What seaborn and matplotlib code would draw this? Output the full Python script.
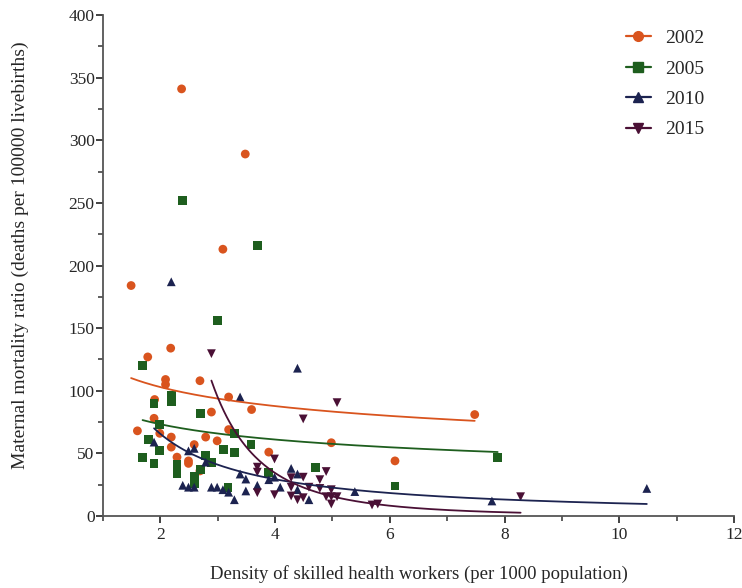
import numpy as np
import pandas as pd
import seaborn as sns
import matplotlib
matplotlib.use("Agg")
import matplotlib.pyplot as plt
from matplotlib.lines import Line2D
from matplotlib.ticker import MultipleLocator

# Density of skilled health workers (per 1000) and maternal mortality ratio, by year
x_2002 = [1.49, 2.37, 3.48, 3.09, 2.18, 1.78, 2.09, 2.09, 2.69, 3.19, 3.59, 1.90, 1.89, 2.89,
          1.60, 1.99, 3.19, 2.19, 2.79, 2.99, 2.19, 2.59, 2.29, 2.49, 2.49, 2.69, 3.89, 4.98,
          6.09, 7.48]
y_2002 = [184, 341, 289, 213, 134, 127, 109, 105, 108, 95, 85, 93, 78, 83,
          68, 66, 69, 63, 63, 60, 55, 57, 47, 44, 42, 36, 51, 58.5,
          44, 81]

x_2005 = [2.39, 3.69, 2.99, 1.69, 2.19, 2.19, 1.89, 2.70, 1.99, 3.29, 1.79, 3.58, 1.99, 3.10,
          3.29, 1.69, 1.89, 2.79, 2.89, 2.29, 2.29, 2.59, 2.59, 2.70, 3.18, 3.89, 4.70, 6.09,
          7.88]
y_2005 = [252, 216, 156, 120, 96, 91, 90, 82, 73, 66, 61, 57, 52, 53,
          50.5, 47, 42, 48, 42.5, 41, 34, 32, 26, 37, 23, 35, 38.6, 24,
          47]

x_2010 = [2.19, 4.39, 3.39, 1.89, 2.49, 2.59, 2.79, 3.39, 3.49, 3.89, 3.99, 4.28, 4.39, 2.39,
          2.49, 2.59, 2.89, 2.99, 3.09, 3.19, 3.29, 3.49, 3.69, 4.09, 4.59, 4.39, 5.39, 7.78,
          10.48]
y_2010 = [187, 118, 95, 59, 52, 54, 43, 33.5, 29.5, 29, 31, 38, 33.5, 24.5,
          23, 23, 23, 23, 21, 19, 13, 20, 24.5, 23, 13, 21, 19.5, 12,
          22]

x_2015 = [2.89, 5.08, 4.49, 3.99, 3.69, 3.69, 3.69, 3.99, 4.28, 4.28, 4.28, 4.39, 4.49, 4.49,
          4.59, 4.78, 4.78, 4.89, 4.98, 4.98, 4.98, 4.89, 5.08, 5.69, 5.79, 8.28]
y_2015 = [129.6, 90.5, 77.5, 45.5, 39, 35, 18.6, 17, 30.6, 23, 16, 13, 31, 14.6,
          23, 29, 22, 35.5, 21, 15.4, 9.6, 15.4, 15.4, 8.8, 9.6, 15.4]

years = ["2002", "2005", "2010", "2015"]
xs = [x_2002, x_2005, x_2010, x_2015]
ys = [y_2002, y_2005, y_2010, y_2015]

# Power-law trend y = a * x**b for each year
trend_a = [120.7, 87.9, 146.5, 4580.0]
trend_b = [-0.23, -0.263, -1.16, -3.53]

colors = {"2002": "#D9541E", "2005": "#1E5E1E", "2010": "#1C2350", "2015": "#4A1035"}
markers = {"2002": "o", "2005": "s", "2010": "^", "2015": "v"}

df = pd.concat(
    [pd.DataFrame({"density": x, "mmr": y, "year": yr}) for yr, x, y in zip(years, xs, ys)],
    ignore_index=True,
)

sns.set_theme(style="ticks")
plt.rcParams["font.family"] = ["Liberation Serif", "DejaVu Serif"]
plt.rcParams["axes.linewidth"] = 1.3
plt.rcParams["xtick.major.width"] = 1.3
plt.rcParams["ytick.major.width"] = 1.3
plt.rcParams["xtick.minor.width"] = 1.1
plt.rcParams["ytick.minor.width"] = 1.1

fig = plt.figure(figsize=(7.42, 5.88), dpi=100)
ax = fig.add_axes([103 / 742, 1 - 516 / 588, (734 - 103) / 742, (516 - 15) / 588])

sns.scatterplot(
    data=df, x="density", y="mmr", hue="year", style="year",
    palette=colors, markers=markers, s=40, linewidth=0, ax=ax, legend=False,
)

# Trend curves over each year's observed density range
for yr, x, a, b in zip(years, xs, trend_a, trend_b):
    xf = np.linspace(min(x), max(x), 200)
    trend = pd.DataFrame({"density": xf, "mmr": a * xf ** b})
    sns.lineplot(data=trend, x="density", y="mmr", color=colors[yr], lw=1.3, ax=ax)

ax.set_xlim(1, 12)
ax.set_ylim(0, 400)
ax.xaxis.set_major_locator(MultipleLocator(2))
ax.xaxis.set_minor_locator(MultipleLocator(1))
ax.yaxis.set_major_locator(MultipleLocator(50))
ax.yaxis.set_minor_locator(MultipleLocator(25))
ax.tick_params(axis="both", which="major", length=5, labelsize=12.5, color="#333333")
ax.tick_params(axis="both", which="minor", length=3.5, color="#333333")
ax.tick_params(axis="y", which="major", pad=1)
ax.tick_params(axis="x", which="major", pad=3)
for side in ("left", "bottom"):
    ax.spines[side].set_color("#555555")
sns.despine(ax=ax)

ax.set_xlabel("Density of skilled health workers (per 1000 population)", fontsize=13.5, labelpad=16)
ax.set_ylabel("Maternal mortality ratio (deaths per 100000 livebirths)", fontsize=14)
ax.yaxis.set_label_coords(-0.118, 0.52)

handles = [
    Line2D([0], [0], color=colors[yr], marker=markers[yr], markersize=7, lw=1.6)
    for yr in years
]
ax.legend(handles, years, loc="upper right", frameon=False, fontsize=14,
          handlelength=1.3, handletextpad=0.7, labelspacing=0.66,
          bbox_to_anchor=(0.98, 1.006))

fig.savefig("out.png", dpi=100)
